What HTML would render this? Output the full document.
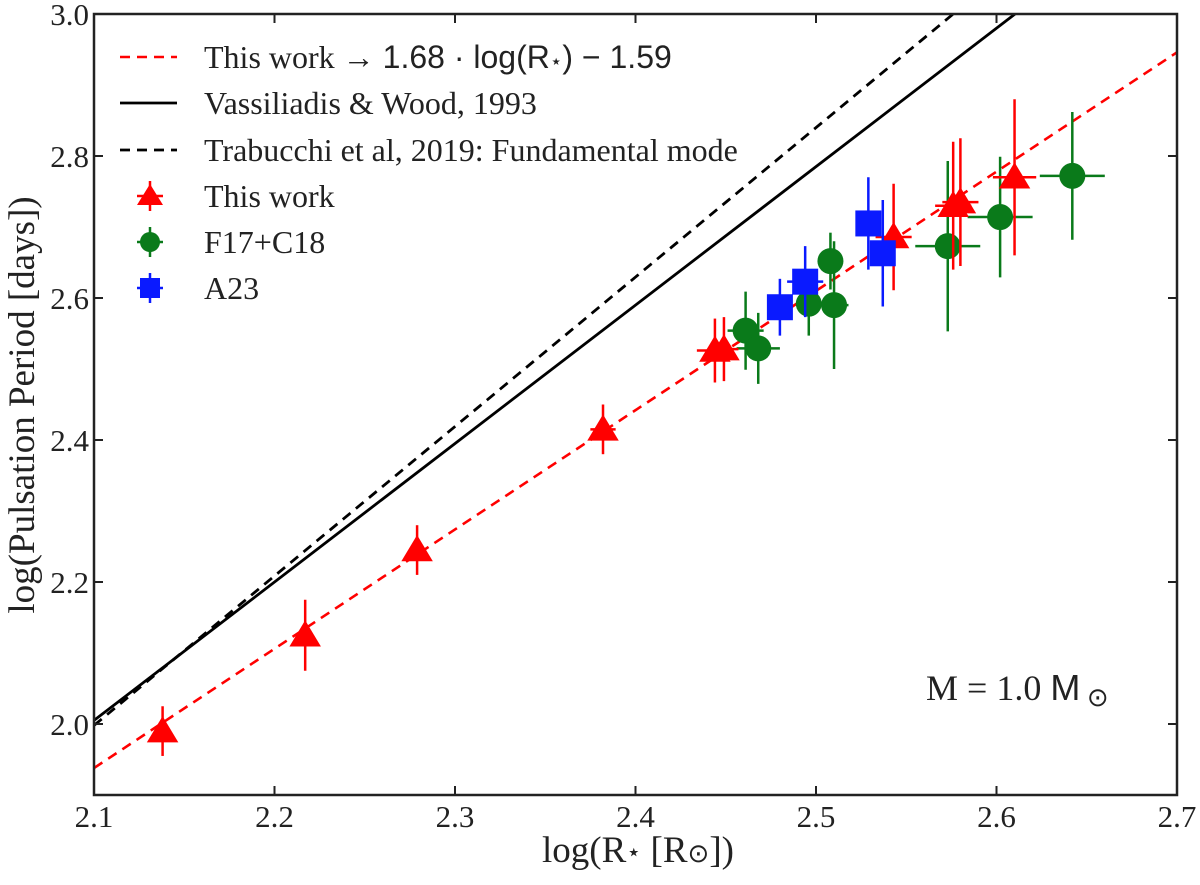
<!DOCTYPE html>
<html><head><meta charset="utf-8"><style>
html,body{margin:0;padding:0;background:#fff;}
svg{display:block;font-family:"Liberation Serif",serif;}
</style></head><body>
<svg id="chart" width="1200" height="885" viewBox="0 0 1200 885">
<g id="plot"></g>
</svg>
<script>
const redX=[2.138,2.217,2.279,2.382,2.444,2.449,2.543,2.576,2.580,2.610];
const redY=[1.990,2.125,2.245,2.415,2.526,2.528,2.686,2.730,2.735,2.770];
const redYErr=[0.035,0.05,0.035,0.035,0.045,0.045,0.075,0.09,0.09,0.11];
const redXErr=[0.003,0.003,0.004,0.007,0.01,0.008,0.01,0.01,0.01,0.012];
const greenX=[2.461,2.468,2.496,2.508,2.510,2.573,2.602,2.642];
const greenY=[2.554,2.529,2.592,2.652,2.590,2.673,2.714,2.772];
const greenYErr=[0.055,0.05,0.045,0.04,0.09,0.12,0.085,0.09];
const greenXErr=[0.01,0.012,0.005,0.005,0.008,0.018,0.018,0.018];
const blueX=[2.480,2.494,2.529,2.537];
const blueY=[2.587,2.623,2.705,2.663];
const blueYErr=[0.04,0.05,0.065,0.075];
const blueXErr=[0.006,0.01,0.006,0.003];
const xTicks=[2.1,2.2,2.3,2.4,2.5,2.6,2.7];
const yTicks=[2.0,2.2,2.4,2.6,2.8,3.0];
const fitThis=[1.68,-1.59];
const fitVW=[1.95,-2.090];
const fitTrab=[2.105,-2.4225];

const L=94,R=1177,T=14,B=795,X0=2.1,X1=2.7,Y0=1.9,Y1=3.0;
const sx=v=>L+(v-X0)/(X1-X0)*(R-L);
const sy=v=>B-(v-Y0)/(Y1-Y0)*(B-T);
const NS="http://www.w3.org/2000/svg";
const g=document.getElementById('plot');
function mk(tag,attrs,parent){const e=document.createElementNS(NS,tag);for(const k in attrs)e.setAttribute(k,attrs[k]);(parent||g).appendChild(e);return e;}

const defs=mk('defs',{});
const cp=mk('clipPath',{id:'clip'},defs);
mk('rect',{x:L,y:T,width:R-L,height:B-T},cp);
const plotArea=mk('g',{'clip-path':'url(#clip)'});



function fitLine(c,stroke,dash,w,name){
  const l=mk('line',{x1:sx(X0),y1:sy(c[0]*X0+c[1]),x2:sx(X1),y2:sy(c[0]*X1+c[1]),stroke:stroke,'stroke-width':w,'stroke-dasharray':dash},plotArea);
  
  
}
fitLine(fitThis,'#ff0000','10,7',2.6,'this-work-fit-line');
fitLine(fitVW,'#000','none',2.8,'vassiliadis-wood-line');
fitLine(fitTrab,'#000','10,7',2.8,'trabucchi-line');

function errs(xs,ys,xe,ye,color,name){
  const grp=mk('g',{},plotArea);
  
  
  for(let i=0;i<xs.length;i++){
    mk('line',{x1:sx(xs[i]),x2:sx(xs[i]),y1:sy(ys[i]-ye[i]),y2:sy(ys[i]+ye[i]),stroke:color,'stroke-width':2.5},grp);
    mk('line',{x1:sx(xs[i]-xe[i]),x2:sx(xs[i]+xe[i]),y1:sy(ys[i]),y2:sy(ys[i]),stroke:color,'stroke-width':2.5},grp);
  }
}
function tri(cx,cy,s,color,parent){
  return mk('polygon',{points:`${cx},${cy-s} ${cx-s*1.05},${cy+s*0.75} ${cx+s*1.05},${cy+s*0.75}`,fill:color},parent);
}
errs(greenX,greenY,greenXErr,greenYErr,'#0a7a1a','f17-c18-errorbars');
const gG=mk('g',{},plotArea);


for(let i=0;i<greenX.length;i++){
  const c=mk('circle',{cx:sx(greenX[i]),cy:sy(greenY[i]),r:13,fill:'#0a7a1a'},gG);
  
  
}
errs(redX,redY,redXErr,redYErr,'#ff0000','this-work-errorbars');
const rG=mk('g',{},plotArea);


for(let i=0;i<redX.length;i++){
  const t=tri(sx(redX[i]),sy(redY[i]),15,'#ff0000',rG);
  
  
}
errs(blueX,blueY,blueXErr,blueYErr,'#0a1aff','a23-errorbars');
const bG=mk('g',{},plotArea);


for(let i=0;i<blueX.length;i++){
  const s=mk('rect',{x:sx(blueX[i])-13,y:sy(blueY[i])-13,width:26,height:26,fill:'#0a1aff'},bG);
  
  
}

const frame=mk('rect',{x:L,y:T,width:R-L,height:B-T,fill:'none',stroke:'#222','stroke-width':2.5});


const xt=mk('g',{});


xTicks.forEach(v=>{
  const x=sx(v);
  mk('line',{x1:x,x2:x,y1:B,y2:B-9,stroke:'#222','stroke-width':2},xt);
  mk('line',{x1:x,x2:x,y1:T,y2:T+9,stroke:'#222','stroke-width':2},xt);
  const t=mk('text',{x:x,y:B+32,'text-anchor':'middle','font-size':31,fill:'#222'},xt);
  t.textContent=v.toFixed(1);
  
  
});
const yt=mk('g',{});


yTicks.forEach(v=>{
  const y=sy(v);
  mk('line',{x1:L,x2:L+9,y1:y,y2:y,stroke:'#222','stroke-width':2},yt);
  mk('line',{x1:R,x2:R-9,y1:y,y2:y,stroke:'#222','stroke-width':2},yt);
  const t=mk('text',{x:L-5,y:y+11,'text-anchor':'end','font-size':31,fill:'#222'},yt);
  t.textContent=v.toFixed(1);
  
  
});
</script>
<svg width="1200" height="885" style="position:absolute;left:0;top:0" font-family="Liberation Serif, serif">
<text x="638" y="862" text-anchor="middle" font-size="37" fill="#222">log(R<tspan font-size="24" dy="-2">⋆</tspan><tspan dy="2"> [R</tspan><tspan font-size="26">⊙</tspan>])</text>
<text transform="translate(34,405) rotate(-90)" text-anchor="middle" font-size="37" fill="#222">log(Pulsation Period [days])</text>
<text x="926" y="700" font-size="36" fill="#222">M = 1.0 <tspan font-family="Liberation Sans, sans-serif">M</tspan><tspan font-size="26" dy="6"> ⊙</tspan></text>
<g font-size="32" fill="#222">
  <g>
    <line x1="120" x2="177" y1="57" y2="57" stroke="#ff0000" stroke-width="2.5" stroke-dasharray="10,7"/>
    <text x="204" y="68">This work → <tspan font-family="Liberation Sans, sans-serif">1.68 · log(R<tspan font-size="20">⋆</tspan>) − 1.59</tspan></text>
  </g>
  <g>
    <line x1="120" x2="177" y1="103" y2="103" stroke="#000" stroke-width="2.8"/>
    <text x="204" y="114">Vassiliadis &amp; Wood, 1993</text>
  </g>
  <g>
    <line x1="120" x2="177" y1="150" y2="150" stroke="#000" stroke-width="2.8" stroke-dasharray="10,7"/>
    <text x="204" y="161">Trabucchi et al, 2019: Fundamental mode</text>
  </g>
  <g>
    <line x1="150" x2="150" y1="181" y2="211" stroke="#ff0000" stroke-width="2.5"/>
    <line x1="137" x2="163" y1="196" y2="196" stroke="#ff0000" stroke-width="2.5"/>
    <polygon points="150,184 137,205 163,205" fill="#ff0000"/>
    <text x="204" y="207">This work</text>
  </g>
  <g>
    <line x1="150" x2="150" y1="227" y2="257" stroke="#0a7a1a" stroke-width="2.5"/>
    <line x1="137" x2="163" y1="242" y2="242" stroke="#0a7a1a" stroke-width="2.5"/>
    <circle cx="150" cy="242" r="10" fill="#0a7a1a"/>
    <text x="204" y="253">F17+C18</text>
  </g>
  <g>
    <line x1="150" x2="150" y1="273" y2="303" stroke="#0a1aff" stroke-width="2.5"/>
    <line x1="137" x2="163" y1="288" y2="288" stroke="#0a1aff" stroke-width="2.5"/>
    <rect x="140" y="278" width="20" height="20" fill="#0a1aff"/>
    <text x="204" y="299">A23</text>
  </g>
</g>
</svg>
</body></html>
